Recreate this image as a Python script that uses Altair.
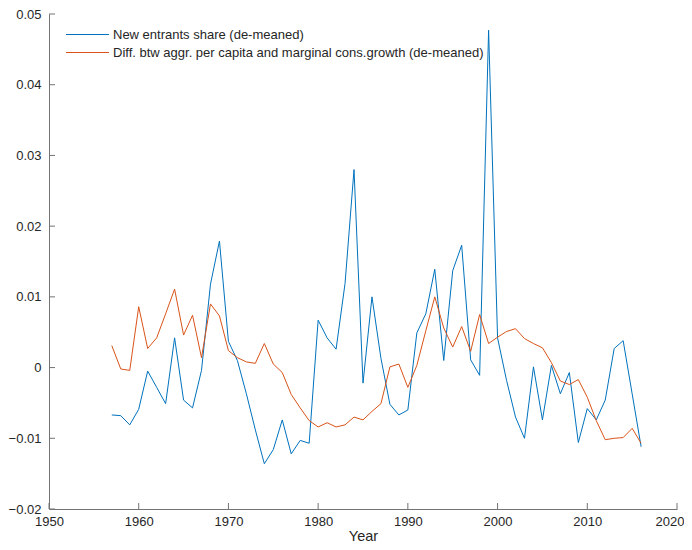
import altair as alt
import pandas as pd

years = list(range(1957, 2017))

new_entrants = [
    -0.0067, -0.0068, -0.0081, -0.0059, -0.0005, -0.0028, -0.0051, 0.0042, -0.0046, -0.0057,
    -0.0004, 0.0118, 0.0179, 0.0037, 0.0010, -0.0037, -0.0088, -0.0136, -0.0116, -0.0074,
    -0.0122, -0.0103, -0.0107, 0.0067, 0.0042, 0.0026, 0.0119, 0.0280, -0.0022, 0.0100,
    0.0013, -0.0052, -0.0067, -0.0060, 0.0049, 0.0076, 0.0139, 0.0010, 0.0137, 0.0173,
    0.0011, -0.0011, 0.0477, 0.0042, -0.0018, -0.0070, -0.0100, 0.0001, -0.0074, 0.0003,
    -0.0037, -0.0007, -0.0106, -0.0058, -0.0074, -0.0046, 0.0027, 0.0038, -0.0037, -0.0112,
]

cons_diff = [
    0.0031, -0.0002, -0.0004, 0.0086, 0.0027, 0.0042, 0.0076, 0.0111, 0.0046, 0.0074,
    0.0014, 0.0090, 0.0073, 0.0024, 0.0014, 0.0008, 0.0006, 0.0034, 0.0005, -0.0007,
    -0.0038, -0.0057, -0.0075, -0.0084, -0.0078, -0.0084, -0.0081, -0.0070, -0.0074, -0.0062,
    -0.0051, 0.0001, 0.0005, -0.0028, 0.0003, 0.0052, 0.0100, 0.0056, 0.0029, 0.0058,
    0.0023, 0.0075, 0.0034, 0.0043, 0.0051, 0.0055, 0.0041, 0.0034, 0.0028, 0.0007,
    -0.0019, -0.0024, -0.0017, -0.0042, -0.0075, -0.0102, -0.0100, -0.0099, -0.0086, -0.0107,
]

series_names = [
    "New entrants share (de-meaned)",
    "Diff. btw aggr. per capita and marginal cons.growth (de-meaned)",
]
series_colors = ["#0072BD", "#D95319"]

x_ticks = [1950, 1960, 1970, 1980, 1990, 2000, 2010, 2020]
y_ticks = [-0.02, -0.01, 0.0, 0.01, 0.02, 0.03, 0.04, 0.05]

W, H = 628, 495
AX = "#737373"
TXT = "#262626"
FONT = "Liberation Sans"

df = pd.DataFrame({
    "year": years * 2,
    "value": new_entrants + cons_diff,
    "series": [series_names[0]] * len(years) + [series_names[1]] * len(years),
    "order": list(range(len(years))) * 2,
})

xscale = alt.Scale(domain=[1950, 2020], nice=False, zero=False)
yscale = alt.Scale(domain=[-0.02, 0.05], nice=False, zero=False)

xaxis = alt.Axis(
    values=x_ticks, format="d", title="Year", grid=False, ticks=False,
    domainColor=AX, domainWidth=1, labelFont=FONT, labelFontSize=13, labelColor=TXT,
    labelPadding=6, labelFlush=False,
    labelAlign={"condition": {"test": "datum.value >= 2019", "value": "right"}, "value": "center"},
    labelOffset={"condition": {"test": "datum.value >= 2019", "value": 7}, "value": 0},
    titleFont=FONT, titleFontSize=14.5,
    titleFontWeight="normal", titleColor=TXT, titlePadding=1)
yaxis = alt.Axis(
    values=y_ticks, title=None, grid=False, ticks=False,
    domainColor=AX, domainWidth=1, labelFont=FONT, labelFontSize=13, labelColor=TXT,
    labelPadding=8, labelFlush=False,
    labelExpr="abs(datum.value) < 1e-9 ? '0' : format(datum.value, '.2f')")

lines = alt.Chart(df).mark_line(strokeWidth=1).encode(
    x=alt.X("year:Q", scale=xscale, axis=xaxis),
    y=alt.Y("value:Q", scale=yscale, axis=yaxis),
    color=alt.Color("series:N", scale=alt.Scale(domain=series_names, range=series_colors), legend=None),
    detail="series:N",
    order="order:Q",
)

xt = alt.Chart(pd.DataFrame({"year": x_ticks})).mark_rule(color=AX, strokeWidth=1).encode(
    x=alt.X("year:Q", scale=xscale, axis=xaxis),
    y=alt.value(H), y2=alt.value(H - 6),
)
yt = alt.Chart(pd.DataFrame({"value": y_ticks})).mark_rule(color=AX, strokeWidth=1).encode(
    y=alt.Y("value:Q", scale=yscale, axis=yaxis),
    x=alt.value(0), x2=alt.value(6),
)

legend_layers = []
row_y = [20.5, 38.5]
for name, col, ry in zip(series_names, series_colors, row_y):
    one = pd.DataFrame({"label": [name]})
    legend_layers.append(
        alt.Chart(one).mark_rule(color=col, strokeWidth=1).encode(
            x=alt.value(17), x2=alt.value(60), y=alt.value(ry))
    )
    legend_layers.append(
        alt.Chart(one).mark_text(align="left", baseline="middle", font=FONT, fontSize=13, color=TXT).encode(
            x=alt.value(64), y=alt.value(ry), text="label:N")
    )

chart = alt.layer(lines, xt, yt, *legend_layers).properties(
    width=W, height=H,
    background="white",
    autosize=alt.AutoSizeParams(type="none"),
    padding={"left": 41, "top": 6, "right": 7, "bottom": 33},
).configure_view(stroke=None)

chart.save("out.html", embed_options={"renderer": "svg", "actions": False})
